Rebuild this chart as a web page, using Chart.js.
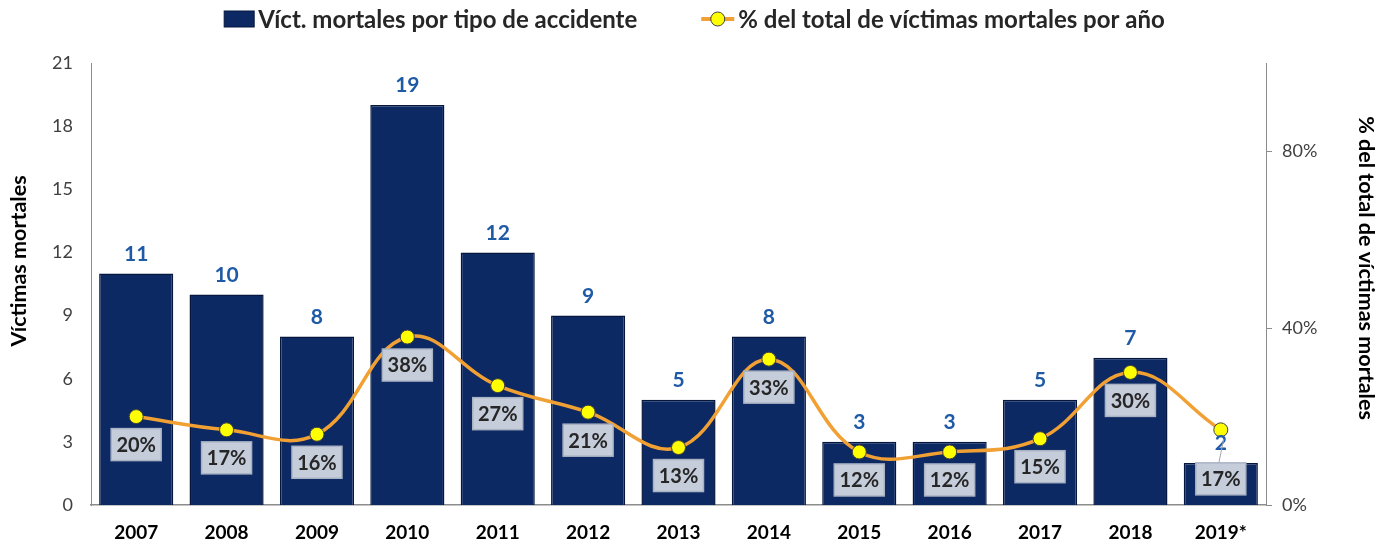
<!DOCTYPE html>
<html>
<head>
<meta charset="utf-8">
<script src="https://cdn.jsdelivr.net/npm/chart.js@4.4.1/dist/chart.umd.min.js"></script>
<style>
  html, body { margin: 0; padding: 0; background: #fff; }
  #wrap { width: 1389px; height: 547px; }
</style>
</head>
<body>
<div id="wrap"><canvas id="chart"></canvas></div>
<script>
// ── DATA ────────────────────────────────────────────────────────────────────
const years      = ['2007', '2008', '2009', '2010', '2011', '2012', '2013', '2014', '2015', '2016', '2017', '2018', '2019*'];
const victims    = [11, 10, 8, 19, 12, 9, 5, 8, 3, 3, 5, 7, 2];
const pctOfTotal = [0.20, 0.17, 0.16, 0.38, 0.27, 0.21, 0.13, 0.33, 0.12, 0.12, 0.15, 0.30, 0.17];
const pctTicks   = [0, 0.4, 0.8];

const barLabel   = 'Víct. mortales por tipo de accidente';
const lineLabel  = '% del total de víctimas mortales por año';
const leftTitle  = 'Víctimas mortales';
const rightTitle = '% del total de víctimas mortales';

// ── STYLE ───────────────────────────────────────────────────────────────────
const FONT   = "Lato, 'Open Sans', sans-serif";
const NAVY   = '#0c2964';
const ORANGE = '#f1a033';
const YELLOW = '#ffff00';

// percent boxes sit below their point; the last one was dragged further down
const pctBoxOffset = (i) => (i === years.length - 1 ? 49 : 28);

const labelsPlugin = {
  id: 'labels',
  afterDatasetsDraw(chart) {
    const ctx = chart.ctx;
    const barMeta  = chart.getDatasetMeta(0);
    const lineMeta = chart.getDatasetMeta(1);
    ctx.save();

    // bar values
    ctx.font = `bold 21px ${FONT}`;
    ctx.fillStyle = '#1f5aa6';
    ctx.textAlign = 'center';
    ctx.textBaseline = 'bottom';
    barMeta.data.forEach((bar, i) => {
      ctx.fillText(String(victims[i]), bar.x, bar.y - 9);
    });

    // percent boxes
    ctx.font = `bold 20px ${FONT}`;
    lineMeta.data.forEach((pt, i) => {
      const cy = pt.y + pctBoxOffset(i);
      const w = 50, h = 32;
      if (pctBoxOffset(i) > 35) {
        ctx.strokeStyle = '#a6a6a6';
        ctx.lineWidth = 1;
        ctx.beginPath();
        ctx.moveTo(pt.x + 3, pt.y + 9);
        ctx.lineTo(pt.x - 2, cy - h / 2);
        ctx.stroke();
      }
      ctx.fillStyle = '#c5cddb';
      ctx.strokeStyle = '#a9b2c3';
      ctx.lineWidth = 1.5;
      ctx.fillRect(pt.x - w / 2, cy - h / 2, w, h);
      ctx.strokeRect(pt.x - w / 2, cy - h / 2, w, h);
      ctx.fillStyle = '#262626';
      ctx.textBaseline = 'middle';
      ctx.fillText(Math.round(pctOfTotal[i] * 100) + '%', pt.x, cy + 1);
    });
    ctx.restore();
  },
  afterDraw(chart) {
    const ctx = chart.ctx;
    ctx.save();

    // axis titles (off-centre in the original)
    ctx.fillStyle = '#000';
    ctx.textAlign = 'center';
    ctx.textBaseline = 'middle';
    ctx.save();
    ctx.translate(19, 261);
    ctx.rotate(-Math.PI / 2);
    ctx.font = `bold 21.5px ${FONT}`;
    ctx.fillText(leftTitle, 0, 0);
    ctx.restore();
    ctx.save();
    ctx.translate(1366, 268);
    ctx.rotate(Math.PI / 2);
    ctx.font = `bold 21.5px ${FONT}`;
    ctx.fillText(rightTitle, 0, 0);
    ctx.restore();

    // legend across the top
    ctx.font = `bold 24px ${FONT}`;
    const w1 = ctx.measureText(barLabel).width;
    const w2 = ctx.measureText(lineLabel).width;
    const total = 30 + 4 + w1 + 64 + 33 + 4 + w2;
    let x = (chart.width - total) / 2;
    const cy = 19;

    ctx.fillStyle = NAVY;
    ctx.strokeStyle = '#06173d';
    ctx.lineWidth = 1;
    ctx.fillRect(x, cy - 8, 30, 16);
    ctx.strokeRect(x, cy - 8, 30, 16);
    x += 34;
    ctx.fillStyle = '#262626';
    ctx.textAlign = 'left';
    ctx.textBaseline = 'middle';
    ctx.fillText(barLabel, x, cy + 1);
    x += w1 + 64;

    ctx.strokeStyle = ORANGE;
    ctx.lineWidth = 4;
    ctx.beginPath();
    ctx.moveTo(x, cy);
    ctx.lineTo(x + 33, cy);
    ctx.stroke();
    ctx.fillStyle = YELLOW;
    ctx.strokeStyle = '#404040';
    ctx.lineWidth = 1;
    ctx.beginPath();
    ctx.arc(x + 16.5, cy, 7, 0, Math.PI * 2);
    ctx.fill();
    ctx.stroke();
    x += 37;
    ctx.fillStyle = '#262626';
    ctx.fillText(lineLabel, x, cy + 1);
    ctx.restore();
  }
};

new Chart(document.getElementById('chart'), {
  type: 'bar',
  data: {
    labels: years,
    datasets: [
      {
        type: 'bar',
        label: barLabel,
        data: victims,
        yAxisID: 'y',
        backgroundColor: NAVY,
        borderColor: '#06173d',
        borderWidth: 1.5,
        barPercentage: 0.82,
        categoryPercentage: 1,
        order: 2,
      },
      {
        type: 'line',
        label: lineLabel,
        data: pctOfTotal,
        yAxisID: 'y1',
        borderColor: ORANGE,
        borderWidth: 3.5,
        tension: 0.4,
        pointRadius: 7,
        pointBackgroundColor: YELLOW,
        pointBorderColor: '#404040',
        pointBorderWidth: 1,
        order: 1,
      },
    ],
  },
  options: {
    responsive: true,
    maintainAspectRatio: false,
    animation: false,
    layout: { padding: { top: 63, left: 0, right: 0, bottom: 0 } },
    plugins: {
      legend: { display: false },
      tooltip: { enabled: false },
    },
    scales: {
      x: {
        grid: { display: false, drawTicks: false },
        border: { display: true, color: '#8c8c8c', width: 1.5 },
        ticks: { color: '#000', font: { family: FONT, size: 19, weight: 'bold' }, padding: 16 },
        afterFit: (s) => { s.height = 42; },
      },
      y: {
        position: 'left',
        min: 0,
        max: 21,
        grid: { display: false, drawTicks: false },
        border: { display: true, color: '#8c8c8c', width: 1 },
        ticks: { stepSize: 3, color: '#404040', font: { family: FONT, size: 18 }, padding: 18 },
        afterFit: (s) => { s.width = 91; },
      },
      y1: {
        position: 'right',
        min: 0,
        max: 1,
        grid: { display: true, drawOnChartArea: false, drawTicks: true, tickLength: 6, color: '#8c8c8c' },
        border: { display: true, color: '#8c8c8c', width: 1 },
        afterBuildTicks: (s) => { s.ticks = pctTicks.map(v => ({ value: v })); },
        ticks: {
          color: '#404040',
          font: { family: FONT, size: 18 },
          padding: 10,
          callback: (v) => Math.round(v * 100) + '%',
        },
        afterFit: (s) => { s.width = 123; },
      },
    },
  },
  plugins: [labelsPlugin],
});
</script>
</body>
</html>
